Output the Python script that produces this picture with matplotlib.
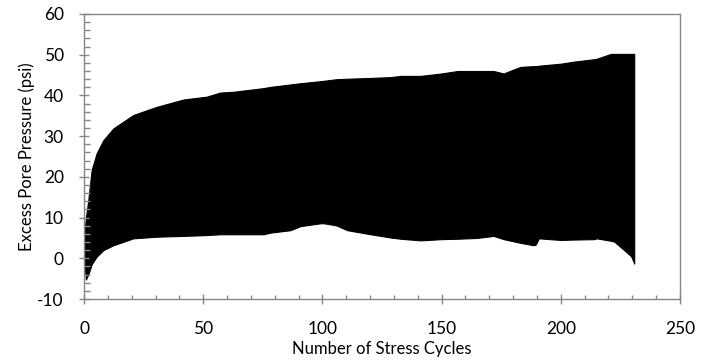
import matplotlib
matplotlib.use("Agg")
import matplotlib.pyplot as plt
from matplotlib.ticker import MultipleLocator

# Envelope of the cyclic excess pore pressure record
cycles = [0.0, 0.3, 0.8, 1.8, 3.2, 5.3, 8.1, 12.3, 20.7, 30.5, 41.7, 51.5, 57.1,
          62.7, 75.3, 78.2, 86.6, 90.8, 99.2, 100.6, 104.7, 106.2, 110.4, 120.2,
          128.6, 132.8, 141.2, 150.0, 156.7, 165.0, 171.8, 176.0, 183.0, 188.6,
          189.5, 190.8, 200.0, 205.5, 214.0, 215.0, 221.0, 222.4, 226.6, 229.5,
          230.8]
upper = [0.0, 7.0, 10.0, 14.3, 21.7, 25.8, 29.0, 31.9, 35.2, 37.2, 39.0, 39.7, 40.7,
         40.9, 41.8, 42.1, 42.7, 43.0, 43.5, 43.6, 43.9, 44.0, 44.1, 44.3,
         44.5, 44.8, 44.8, 45.4, 46.0, 46.0, 46.0, 45.4, 47.0, 47.2,
         47.2, 47.3, 47.8, 48.3, 48.9, 49.0, 50.2, 50.2, 50.2, 50.2,
         50.2]
lower = [0.0, -2.0, -5.2, -4.0, -1.5, 0.4, 2.0, 3.2, 4.9, 5.3, 5.5, 5.7, 5.9,
         5.9, 5.9, 6.3, 6.9, 7.9, 8.6, 8.6, 8.2, 8.0, 6.9, 5.9,
         5.1, 4.8, 4.4, 4.7, 4.8, 5.0, 5.5, 4.7, 3.8, 3.2,
         3.4, 4.9, 4.5, 4.6, 4.7, 4.9, 4.3, 4.1, 2.0, 0.5,
         -1.3]

x_ticks = [0, 50, 100, 150, 200, 250]
y_ticks = [-10, 0, 10, 20, 30, 40, 50, 60]
y_tick_labels = ['-10', '0', '10', '20', '30', '40', '50', '60']

plt.rcParams['font.family'] = ['Lato', 'DejaVu Sans']

fig = plt.figure(figsize=(7.02, 3.63), dpi=100)
ax = fig.add_axes([84/702, 1-299/363, (680-84)/702, (299-14)/363])

ax.fill_between(cycles, lower, upper, color='black', linewidth=0.8, edgecolor='black')

ax.set_xlim(0, 250)
ax.set_ylim(-10, 60)
ax.set_xticks(x_ticks)
ax.set_yticks(y_ticks)
ax.set_yticklabels(y_tick_labels)
ax.xaxis.set_minor_locator(MultipleLocator(10))
ax.yaxis.set_minor_locator(MultipleLocator(2))

grey = '#868686'
for s in ax.spines.values():
    s.set_color(grey)
    s.set_linewidth(1.0)

ax.tick_params(axis='both', which='major', direction='inout', length=7, width=1.0,
               color=grey, labelsize=12.5, labelcolor='black')
ax.tick_params(axis='x', which='minor', direction='in', length=3, width=1.0, color=grey)
ax.tick_params(axis='y', which='minor', direction='in', length=4, width=1.0, color=grey)
ax.tick_params(axis='x', which='major', pad=12)
ax.tick_params(axis='y', which='major', pad=11)

ax.set_xlabel('Number of Stress Cycles', fontsize=12, labelpad=3)
ax.set_ylabel('Excess Pore Pressure (psi)', fontsize=12, labelpad=2)

fig.savefig('out.png', dpi=100)
